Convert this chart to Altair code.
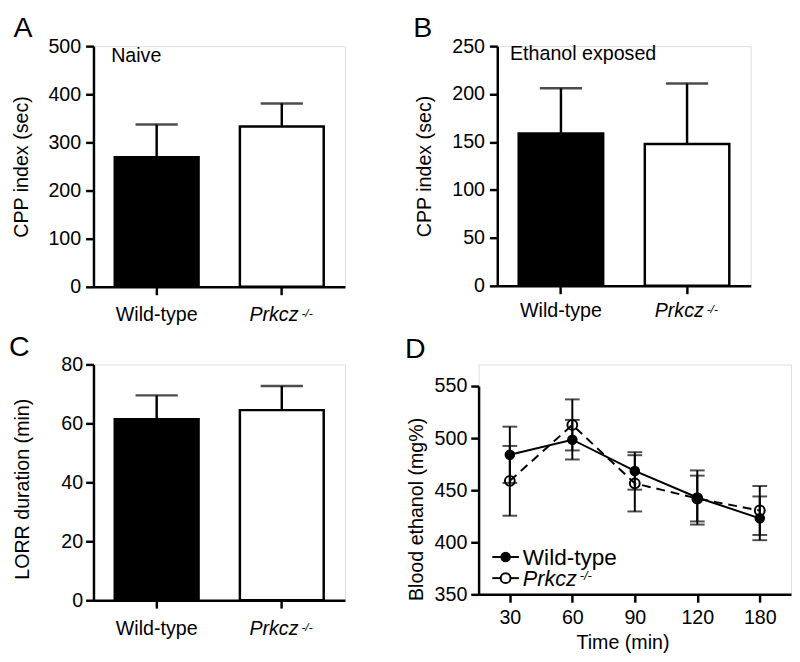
import altair as alt
import pandas as pd

FONT = "Liberation Sans"

# ---- data ----
genotypes = ["Wild-type", "Prkcz -/-"]
bar_fill = ["black", "white"]
label_main = ["Wild-type", "Prkcz"]
label_sup = ["", "-/-"]

naive_mean = [269, 333]
naive_sem = [68, 48]
ethanol_mean = [159, 148]
ethanol_sem = [47, 63]
lorr_mean = [61.4, 64.5]
lorr_sem = [8.1, 8.2]

times = ["30", "60", "90", "120", "180"]
wt_bec = [484, 498.5, 468.5, 443, 423]
wt_bec_sem = [27, 19, 18, 26, 21]
ko_bec = [459, 512.7, 456.6, 442, 430.5]
ko_bec_sem = [33.5, 24.5, 27, 22, 23.5]

AX = dict(domainColor="black", domainWidth=2.5, tickColor="black", tickWidth=2.5,
          tickSize=8, labelFont=FONT, labelFontSize=20, labelColor="black",
          titleFont=FONT, titleFontSize=20, titleFontWeight="normal",
          titleColor="black", grid=False)


def one(txt):
    return alt.Chart(pd.DataFrame({"t": [txt]}))


def bar_panel(mean, sem, ymax, ystep, ytitle, letter, letter_xy, note, note_xy,
              w, h, title_x, lab_off, title_y=None, label_pad=5):
    df = pd.DataFrame({
        "genotype": genotypes,
        "mean": mean,
        "top": [m + s for m, s in zip(mean, sem)],
        "fill": bar_fill,
        "main": label_main,
        "sup": label_sup,
    })
    xs = alt.X("genotype:N", sort=genotypes,
               scale=alt.Scale(paddingInner=0.33, paddingOuter=0.17),
               axis=alt.Axis(title=None, labels=False, **AX))
    ykw = dict(values=list(range(0, ymax + 1, ystep)), title=ytitle,
               titleX=title_x, labelPadding=label_pad, **AX)
    if title_y is not None:
        ykw["titleY"] = title_y
    ys = alt.Y("mean:Q", scale=alt.Scale(domain=[0, ymax], nice=False),
               axis=alt.Axis(**ykw))
    xb = alt.X("genotype:N", sort=genotypes)
    base = alt.Chart(df)
    bars = base.mark_bar(stroke="black", strokeWidth=2.5).encode(
        x=xs, y=ys, fill=alt.Fill("fill:N", scale=None))
    err = base.mark_rule(color="black", strokeWidth=2.5).encode(
        x=xb, y="mean:Q", y2="top:Q")
    cap = base.mark_tick(color="black", thickness=2.5, size=43).encode(
        x=xb, y="top:Q")
    wt_lab = base.transform_filter(alt.datum.sup == "").mark_text(
        font=FONT, fontSize=20, align="center", baseline="alphabetic",
        color="black").encode(x=xb, y=alt.value(h + lab_off), text="main:N")
    ko_lab = base.transform_filter(alt.datum.sup != "").mark_text(
        font=FONT, fontSize=20, fontStyle="italic", align="right",
        baseline="alphabetic", dx=17, color="black").encode(
        x=xb, y=alt.value(h + lab_off), text="main:N")
    ko_sup = base.transform_filter(alt.datum.sup != "").mark_text(
        font=FONT, fontSize=12, fontStyle="italic", align="left",
        baseline="alphabetic", dx=20, color="black").encode(
        x=xb, y=alt.value(h + lab_off - 4), text="sup:N")
    let = one(letter).mark_text(font=FONT, fontSize=29, align="left",
                                baseline="alphabetic", color="black").encode(
        x=alt.value(letter_xy[0]), y=alt.value(letter_xy[1]), text="t:N")
    layers = [bars, err, cap, wt_lab, ko_lab, ko_sup, let]
    if note:
        layers.append(one(note).mark_text(
            font=FONT, fontSize=20, align="left", baseline="alphabetic",
            color="black").encode(x=alt.value(note_xy[0]),
                                  y=alt.value(note_xy[1]), text="t:N"))
    return alt.layer(*layers).properties(width=w, height=h)


panel_a = bar_panel(naive_mean, naive_sem, 500, 100, "CPP index (sec)", "A",
                    (-81.3, -9), "Naive", (18, 16), 256, 245, -63, 35)
panel_b = bar_panel(ethanol_mean, ethanol_sem, 250, 50, "CPP index (sec)", "B",
                    (-85.6, -9), "Ethanol exposed", (13, 14), 258, 244, -64, 32)
panel_c = bar_panel(lorr_mean, lorr_sem, 80, 20, "LORR duration (min)", "C",
                    (-86, -8.5), None, None, 256, 240, -62, 35,
                    title_y=126.5, label_pad=3)

# ---- panel D ----
DW, DH = 318, 234
dfd = pd.DataFrame({
    "time": times + times,
    "group": ["Wild-type"] * 5 + ["Prkcz"] * 5,
    "mean": wt_bec + ko_bec,
    "lo": [m - s for m, s in zip(wt_bec, wt_bec_sem)] + [m - s for m, s in zip(ko_bec, ko_bec_sem)],
    "hi": [m + s for m, s in zip(wt_bec, wt_bec_sem)] + [m + s for m, s in zip(ko_bec, ko_bec_sem)],
})
xd = alt.X("time:O", sort=times, scale=alt.Scale(type="point", padding=0.5),
           axis=alt.Axis(labelAngle=0, title="Time (min)", titleX=146.5,
                         titleY=39, labelPadding=6, **AX))
yd = alt.Y("mean:Q", scale=alt.Scale(domain=[350, 550], nice=False, zero=False,
                                     range=[DH, 22]),
           axis=alt.Axis(values=[350, 400, 450, 500, 550],
                         title="Blood ethanol (mg%)", titleX=-53, titleY=147,
                         labelPadding=4, **AX))
xdb = alt.X("time:O", sort=times)
based = alt.Chart(dfd)
d_err = based.mark_rule(color="black", strokeWidth=2).encode(x=xd, y=yd, y2="hi:Q")
d_err_lo = based.mark_rule(color="black", strokeWidth=2).encode(x=xdb, y="lo:Q", y2="mean:Q")
d_cap_hi = based.mark_tick(color="black", thickness=2, size=15).encode(x=xdb, y="hi:Q")
d_cap_lo = based.mark_tick(color="black", thickness=2, size=15).encode(x=xdb, y="lo:Q")
wt = based.transform_filter(alt.datum.group == "Wild-type")
ko = based.transform_filter(alt.datum.group == "Prkcz")
wt_line = wt.mark_line(color="black", strokeWidth=2).encode(x=xdb, y="mean:Q")
ko_line = ko.mark_line(color="black", strokeWidth=2, strokeDash=[9, 6]).encode(x=xdb, y="mean:Q")
wt_pts = wt.mark_point(filled=True, color="black", size=115, opacity=1).encode(x=xdb, y="mean:Q")
ko_pts = ko.mark_point(filled=False, color="black", strokeWidth=2, size=100, opacity=1).encode(x=xdb, y="mean:Q")

leg_wt_line = one("l").mark_rule(color="black", strokeWidth=2).encode(
    x=alt.value(14), x2=alt.value(41), y=alt.value(196))
leg_wt_pt = one("p").mark_point(filled=True, color="black", size=115, opacity=1).encode(
    x=alt.value(27.5), y=alt.value(196))
leg_wt_txt = one("Wild-type").mark_text(font=FONT, fontSize=23, align="left",
                                        baseline="alphabetic", color="black").encode(
    x=alt.value(45), y=alt.value(204), text="t:N")
leg_ko_line = one("l").mark_rule(color="black", strokeWidth=2).encode(
    x=alt.value(14), x2=alt.value(41), y=alt.value(217.5))
leg_ko_pt = one("p").mark_point(filled=True, fill="white", stroke="black", strokeWidth=2,
                                size=100, opacity=1).encode(
    x=alt.value(27.5), y=alt.value(217.5))
leg_ko_txt = one("Prkcz").mark_text(font=FONT, fontSize=22, fontStyle="italic", align="left",
                                    baseline="alphabetic", color="black").encode(
    x=alt.value(45), y=alt.value(226), text="t:N")
leg_ko_sup = one("-/-").mark_text(font=FONT, fontSize=13, fontStyle="italic", align="left",
                                  baseline="alphabetic", color="black").encode(
    x=alt.value(103), y=alt.value(219), text="t:N")
letter_d = one("D").mark_text(font=FONT, fontSize=29, align="left",
                              baseline="alphabetic", color="black").encode(
    x=alt.value(-75), y=alt.value(-6.7), text="t:N")

panel_d = alt.layer(d_err, d_err_lo, d_cap_hi, d_cap_lo, wt_line, ko_line, wt_pts, ko_pts,
                    leg_wt_line, leg_wt_pt, leg_wt_txt, leg_ko_line, leg_ko_pt,
                    leg_ko_txt, leg_ko_sup, letter_d).properties(width=DW, height=DH)

row1 = alt.hconcat(panel_a, panel_b, spacing=155, bounds="flush")
row2 = alt.hconcat(panel_c, panel_d, spacing=136, bounds="flush")
chart = alt.vconcat(row1, row2, spacing=7).properties(
    padding={"left": 0, "top": 0, "right": 0, "bottom": 0}
).configure_view(stroke=None).configure(font=FONT, background="white")

chart.save("out.html", embed_options={"renderer": "svg", "actions": False})
